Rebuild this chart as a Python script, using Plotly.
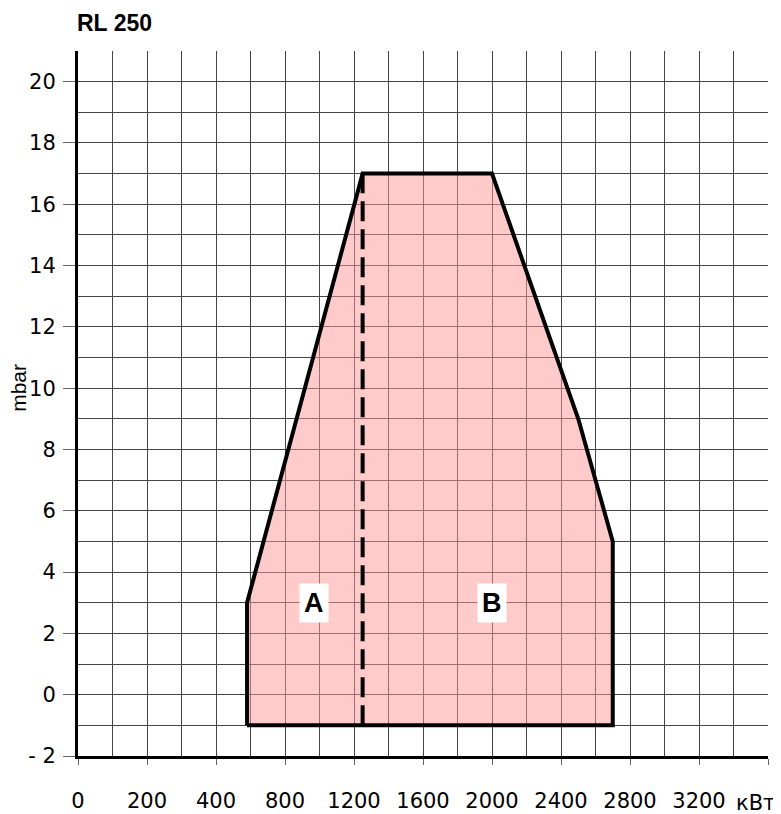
import plotly.graph_objects as go

# Data (kW on a linear scale; the printed scale labels are irregular at the low end)
region_x = [580, 580, 1250, 2000, 2500, 2700, 2700, 580]
region_y = [-1, 3, 17, 17, 9, 5, -1, -1]
split_x = [1250, 1250]
split_y = [-1, 17]
x_tickvals = [-400, 0, 400, 800, 1200, 1600, 2000, 2400, 2800, 3200, 3600]
x_ticktext = ["0", "200", "400", "800", "1200", "1600", "2000", "2400", "2800", "3200", ""]
y_tickvals = [-2, 0, 2, 4, 6, 8, 10, 12, 14, 16, 18, 20]
y_ticktext = ["- 2", "0", "2", "4", "6", "8", "10", "12", "14", "16", "18", "20"]
zone_labels = ["A", "B"]
zone_x = [970, 2000]
zone_y = [3, 3]

FONT = "Liberation Sans, Arial, sans-serif"
TICKFONT = "DejaVu Sans, sans-serif"
GRID = "#454545"

fig = go.Figure()
fig.add_trace(go.Scatter(
    x=region_x, y=region_y, mode="lines", fill="toself",
    fillcolor="rgba(255,150,150,0.5)",
    line=dict(color="black", width=4), hoverinfo="skip", showlegend=False))
fig.add_trace(go.Scatter(
    x=split_x, y=split_y, mode="lines",
    line=dict(color="black", width=4, dash="20px,8px"),
    hoverinfo="skip", showlegend=False))

for t, xx, yy in zip(zone_labels, zone_x, zone_y):
    fig.add_annotation(x=xx, y=yy, text=f"<b>{t}</b>", showarrow=False,
                       bgcolor="white", borderpad=4,
                       font=dict(family=FONT, size=27, color="black"))

fig.add_annotation(xref="paper", yref="paper", x=-0.004, y=1.04,
                   xanchor="left", yanchor="middle", text="<b>RL 250</b>",
                   showarrow=False, font=dict(family=FONT, size=23, color="black"))
fig.add_annotation(xref="paper", yref="y", x=-0.086, y=10,
                   xanchor="center", yanchor="middle",
                   text="mbar", textangle=-90, showarrow=False,
                   font=dict(family=FONT, size=21, color="black"))
fig.add_annotation(xref="x", yref="paper", x=3525, y=-0.067,
                   xanchor="center", yanchor="middle",
                   text="кВт", showarrow=False,
                   font=dict(family=TICKFONT, size=21, color="black"))

# page body has an 8px default margin; size the figure so the plot lands in place
fig.update_layout(
    width=773, height=806,
    margin=dict(l=70, r=13, t=43, b=58, autoexpand=False),
    paper_bgcolor="white", plot_bgcolor="white",
    font=dict(family=TICKFONT, size=21, color="black"),
    showlegend=False,
)
fig.update_xaxes(
    range=[-400, 3600], tickmode="array", tickvals=x_tickvals, ticktext=x_ticktext,
    tickfont=dict(family=TICKFONT, size=21, color="black"),
    showgrid=True, gridcolor=GRID, gridwidth=1.3, zeroline=False,
    showline=True, linecolor="black", linewidth=3,
    ticks="outside", ticklen=6, tickcolor="#666", tickwidth=1,
    ticklabelstandoff=18, automargin=False,
    minor=dict(tickmode="linear", tick0=-400, dtick=200, showgrid=True,
               gridcolor=GRID, gridwidth=1.3, ticks=""),
)
fig.update_yaxes(
    range=[-2, 21], tickmode="array", tickvals=y_tickvals, ticktext=y_ticktext,
    tickfont=dict(family=TICKFONT, size=21, color="black"),
    showgrid=True, gridcolor=GRID, gridwidth=1.3, zeroline=False,
    showline=True, linecolor="black", linewidth=3,
    ticks="outside", ticklen=12, tickcolor="#666", tickwidth=1,
    ticklabelstandoff=3, automargin=False,
    minor=dict(tickmode="linear", tick0=-2, dtick=1, showgrid=True,
               gridcolor=GRID, gridwidth=1.3, ticks=""),
)

fig.write_html("out.html")
